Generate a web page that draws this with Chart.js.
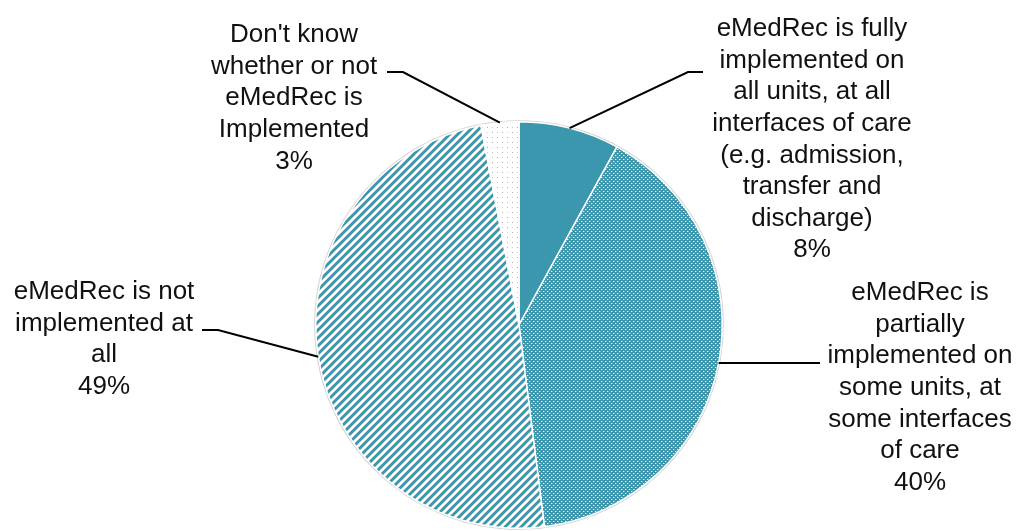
<!DOCTYPE html>
<html>
<head>
<meta charset="utf-8">
<script src="https://cdn.jsdelivr.net/npm/chart.js@4/dist/chart.umd.min.js"></script>
<style>
html,body{margin:0;padding:0;background:#fff;}
#wrap{width:1018px;height:531px;}
</style>
</head>
<body>
<div id="wrap"><canvas id="c" width="1018" height="531"></canvas></div>
<script>
// ---- data ----
const categories = [
  ["eMedRec is fully", "implemented on", "all units, at all", "interfaces of care", "(e.g. admission,", "transfer and", "discharge)"],
  ["eMedRec is", "partially", "implemented on", "some units, at", "some interfaces", "of care"],
  ["eMedRec is not", "implemented at", "all"],
  ["Don't know", "whether or not", "eMedRec is", "Implemented"]
];
const values = [8, 40, 49, 3];
const percentLabels = ["8%", "40%", "49%", "3%"];

// ---- layout (label block centres & leader elbows) ----
const labelLayout = [
  {cx: 812, y0: 29, elbow: [688, 72], end: [703, 72]},
  {cx: 920, y0: 293, elbow: null, end: [820, null]},
  {cx: 104, y0: 292, elbow: [218, 330], end: [202, 330]},
  {cx: 294, y0: 35, elbow: [403, 72], end: [387, 72]}
];
const LINE_H = 31.6;
const TEAL = '#3b97ad';

function makeDense(){
  const c = document.createElement('canvas'); c.width = 4; c.height = 4;
  const g = c.getContext('2d');
  g.fillStyle = TEAL; g.fillRect(0,0,4,4);
  g.fillStyle = 'rgba(255,255,255,0.95)';
  g.fillRect(1,1,1,1); g.fillRect(3,3,1,1);
  g.fillStyle = 'rgba(255,255,255,0.35)';
  g.fillRect(2,1,1,1); g.fillRect(0,3,1,1);
  return g.createPattern(c,'repeat');
}
function makeStripes(){
  const c = document.createElement('canvas'); c.width = 8; c.height = 8;
  const g = c.getContext('2d');
  g.fillStyle = '#fff'; g.fillRect(0,0,8,8);
  g.strokeStyle = TEAL; g.lineWidth = 2.9; g.lineCap = 'square';
  g.beginPath();
  g.moveTo(-2,10); g.lineTo(10,-2);
  g.moveTo(-2,2); g.lineTo(2,-2);
  g.moveTo(6,10); g.lineTo(10,6);
  g.stroke();
  return g.createPattern(c,'repeat');
}
function makeSparse(){
  const c = document.createElement('canvas'); c.width = 10; c.height = 10;
  const g = c.getContext('2d');
  g.fillStyle = '#fff'; g.fillRect(0,0,10,10);
  g.fillStyle = '#a9a9a9';
  g.fillRect(2,2,1,1); g.fillRect(7,7,1,1);
  g.fillStyle = '#cfcfcf';
  g.fillRect(7,2,1,1); g.fillRect(2,7,1,1);
  return g.createPattern(c,'repeat');
}

const labelPlugin = {
  id: 'calloutLabels',
  beforeDatasetsDraw(chart){
    const arc = chart.getDatasetMeta(0).data[0];
    if(!arc) return;
    const ctx = chart.ctx;
    ctx.save();
    ctx.beginPath();
    ctx.arc(arc.x, arc.y, arc.outerRadius + 0.8, 0, Math.PI*2);
    ctx.strokeStyle = 'rgba(0,0,0,0.18)';
    ctx.lineWidth = 1.6;
    ctx.stroke();
    ctx.restore();
  },
  afterDatasetsDraw(chart){
    const ctx = chart.ctx;
    const meta = chart.getDatasetMeta(0);
    ctx.save();
    meta.data.forEach((arc, i) => {
      const L = labelLayout[i];
      const mid = (arc.startAngle + arc.endAngle) / 2;
      const ax = arc.x + Math.cos(mid) * arc.outerRadius;
      const ay = arc.y + Math.sin(mid) * arc.outerRadius;
      ctx.beginPath();
      ctx.strokeStyle = '#000';
      ctx.lineWidth = 2;
      ctx.moveTo(ax, ay);
      if (L.elbow) {
        ctx.lineTo(L.elbow[0], L.elbow[1]);
        ctx.lineTo(L.end[0], L.end[1]);
      } else {
        ctx.lineTo(L.end[0], ay);
      }
      ctx.stroke();
      const lines = categories[i].concat([percentLabels[i]]);
      ctx.fillStyle = '#111';
      ctx.font = '26px "Liberation Sans", Arial, sans-serif';
      ctx.textAlign = 'center';
      ctx.textBaseline = 'middle';
      lines.forEach((t, k) => ctx.fillText(t, L.cx, L.y0 + k * LINE_H));
    });
    ctx.restore();
  }
};

new Chart(document.getElementById('c'), {
  type: 'pie',
  data: {
    labels: categories.map(l => l.join(' ')),
    datasets: [{
      data: values,
      backgroundColor: [TEAL, makeDense(), makeStripes(), makeSparse()],
      borderColor: '#ffffff',
      borderWidth: 1.5
    }]
  },
  options: {
    responsive: false,
    animation: false,
    layout: {padding: {top: 121, bottom: 2, left: 20, right: 0}},
    plugins: {legend: {display: false}, tooltip: {enabled: false}}
  },
  plugins: [labelPlugin]
});
</script>
</body>
</html>
